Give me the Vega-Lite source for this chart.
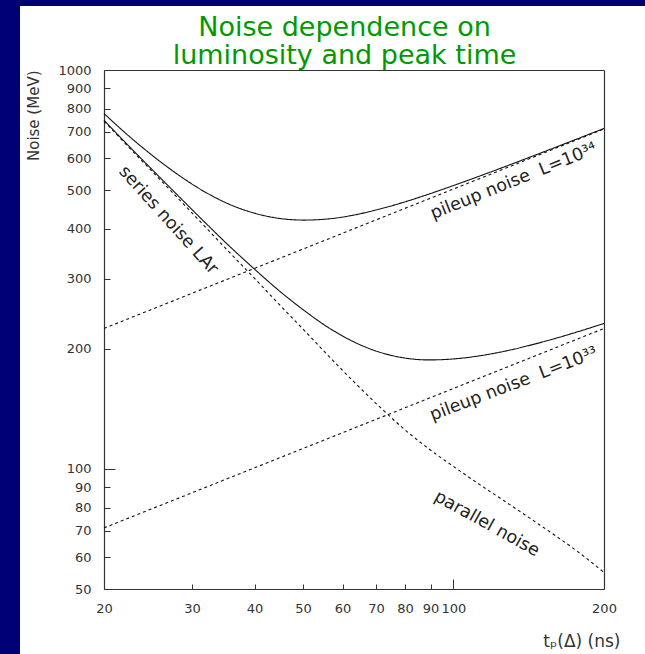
{
  "$schema": "https://vega.github.io/schema/vega-lite/v6.json",
  "width": 625,
  "height": 648,
  "autosize": "none",
  "padding": {"left": 20, "top": 6, "right": 0, "bottom": 0},
  "background": "#000074",
  "config": {
    "view": {"fill": "white", "stroke": null},
    "axis": {
      "labelFont": "DejaVu Sans",
      "labelFontSize": 13,
      "labelColor": "#333333",
      "titleFont": "DejaVu Sans",
      "titleFontWeight": "normal",
      "titleColor": "#333333",
      "domainColor": "#333333",
      "tickColor": "#333333",
      "domainWidth": 1.2,
      "tickWidth": 1
    }
  },
  "title": {
    "text": ["Noise dependence on", "luminosity and peak time"],
    "font": "DejaVu Sans",
    "fontSize": 27,
    "fontWeight": "normal",
    "color": "#009a00",
    "anchor": "middle",
    "frame": "group",
    "offset": 0,
    "lineHeight": 28,
    "dx": 12,
    "dy": 64
  },
  "datasets": {
    "curves": [
      {"curve": "total, L=10³⁴", "t": 20, "noise": 777.9},
      {"curve": "total, L=10³⁴", "t": 22.44, "noise": 682.6},
      {"curve": "total, L=10³⁴", "t": 25.18, "noise": 605.9},
      {"curve": "total, L=10³⁴", "t": 28.25, "noise": 544.4},
      {"curve": "total, L=10³⁴", "t": 31.7, "noise": 496.2},
      {"curve": "total, L=10³⁴", "t": 35.57, "noise": 461.0},
      {"curve": "total, L=10³⁴", "t": 39.91, "noise": 438.0},
      {"curve": "total, L=10³⁴", "t": 44.77, "noise": 424.7},
      {"curve": "total, L=10³⁴", "t": 50.24, "noise": 420.5},
      {"curve": "total, L=10³⁴", "t": 56.37, "noise": 423.5},
      {"curve": "total, L=10³⁴", "t": 63.25, "noise": 432.9},
      {"curve": "total, L=10³⁴", "t": 70.96, "noise": 447.6},
      {"curve": "total, L=10³⁴", "t": 79.62, "noise": 466.3},
      {"curve": "total, L=10³⁴", "t": 89.34, "noise": 488.7},
      {"curve": "total, L=10³⁴", "t": 100.24, "noise": 513.9},
      {"curve": "total, L=10³⁴", "t": 112.47, "noise": 541.4},
      {"curve": "total, L=10³⁴", "t": 126.19, "noise": 571.3},
      {"curve": "total, L=10³⁴", "t": 141.59, "noise": 603.5},
      {"curve": "total, L=10³⁴", "t": 158.87, "noise": 637.9},
      {"curve": "total, L=10³⁴", "t": 178.25, "noise": 674.6},
      {"curve": "total, L=10³⁴", "t": 200, "noise": 713.6},

      {"curve": "total, L=10³³", "t": 20, "noise": 748.1},
      {"curve": "total, L=10³³", "t": 22.44, "noise": 644.1},
      {"curve": "total, L=10³³", "t": 25.18, "noise": 556.6},
      {"curve": "total, L=10³³", "t": 28.25, "noise": 481.7},
      {"curve": "total, L=10³³", "t": 31.7, "noise": 417.1},
      {"curve": "total, L=10³³", "t": 35.57, "noise": 362.5},
      {"curve": "total, L=10³³", "t": 39.91, "noise": 317.6},
      {"curve": "total, L=10³³", "t": 44.77, "noise": 279.9},
      {"curve": "total, L=10³³", "t": 50.24, "noise": 249.7},
      {"curve": "total, L=10³³", "t": 56.37, "noise": 225.6},
      {"curve": "total, L=10³³", "t": 63.25, "noise": 208.1},
      {"curve": "total, L=10³³", "t": 70.96, "noise": 196.4},
      {"curve": "total, L=10³³", "t": 79.62, "noise": 189.8},
      {"curve": "total, L=10³³", "t": 89.34, "noise": 187.6},
      {"curve": "total, L=10³³", "t": 100.24, "noise": 188.7},
      {"curve": "total, L=10³³", "t": 112.47, "noise": 192.0},
      {"curve": "total, L=10³³", "t": 126.19, "noise": 197.1},
      {"curve": "total, L=10³³", "t": 141.59, "noise": 203.9},
      {"curve": "total, L=10³³", "t": 158.87, "noise": 211.9},
      {"curve": "total, L=10³³", "t": 178.25, "noise": 221.2},
      {"curve": "total, L=10³³", "t": 200, "noise": 231.6},

      {"curve": "series + parallel noise", "t": 20, "noise": 744.7},
      {"curve": "series + parallel noise", "t": 22.44, "noise": 639.7},
      {"curve": "series + parallel noise", "t": 25.18, "noise": 550.8},
      {"curve": "series + parallel noise", "t": 28.25, "noise": 474.2},
      {"curve": "series + parallel noise", "t": 31.7, "noise": 407.4},
      {"curve": "series + parallel noise", "t": 35.57, "noise": 349.9},
      {"curve": "series + parallel noise", "t": 39.91, "noise": 301.3},
      {"curve": "series + parallel noise", "t": 44.77, "noise": 258.8},
      {"curve": "series + parallel noise", "t": 50.24, "noise": 222.8},
      {"curve": "series + parallel noise", "t": 56.37, "noise": 191.4},
      {"curve": "series + parallel noise", "t": 63.25, "noise": 165.2},
      {"curve": "series + parallel noise", "t": 70.96, "noise": 143.6},
      {"curve": "series + parallel noise", "t": 79.62, "noise": 125.9},
      {"curve": "series + parallel noise", "t": 89.34, "noise": 112.2},
      {"curve": "series + parallel noise", "t": 100.24, "noise": 101.2},
      {"curve": "series + parallel noise", "t": 112.47, "noise": 91.6},
      {"curve": "series + parallel noise", "t": 126.19, "noise": 83.2},
      {"curve": "series + parallel noise", "t": 141.59, "noise": 75.5},
      {"curve": "series + parallel noise", "t": 158.87, "noise": 68.4},
      {"curve": "series + parallel noise", "t": 178.25, "noise": 61.7},
      {"curve": "series + parallel noise", "t": 200, "noise": 55.0},

      {"curve": "pileup, L=10³⁴", "t": 20, "noise": 225.0},
      {"curve": "pileup, L=10³⁴", "t": 200, "noise": 711.5},

      {"curve": "pileup, L=10³³", "t": 20, "noise": 71.15},
      {"curve": "pileup, L=10³³", "t": 200, "noise": 225.0}
    ],
    "labels": [
      {"label": "series noise LAr", "t": 26.9, "noise": 420},
      {"label": "pileup noise\u00a0\u00a0L=10³⁴", "t": 132, "noise": 526},
      {"label": "pileup noise\u00a0\u00a0L=10³³", "t": 132, "noise": 163},
      {"label": "parallel noise", "t": 116.6, "noise": 72.8}
    ]
  },
  "layer": [
    {
      "data": {"name": "curves"},
      "mark": {"type": "line", "interpolate": "monotone", "color": "#111111", "strokeWidth": 1.1},
      "encoding": {
        "x": {
          "field": "t", "type": "quantitative",
          "scale": {"type": "log", "domain": [20, 200], "range": [84, 584], "nice": false},
          "axis": {
            "orient": "bottom", "offset": -65,
            "values": [20, 30, 40, 50, 60, 70, 80, 90, 100, 200],
            "format": "d",
            "tickSize": {"condition": {"test": "datum.value === 100", "value": -10}, "value": -5},
            "labelPadding": {"condition": {"test": "datum.value === 100", "value": 23}, "value": 18},
            "labelFlush": false, "labelOverlap": false, "labelBound": false,
            "grid": false,
            "title": "tₚ(Δ) (ns)", "titleFontSize": 17,
            "titleX": 600, "titleY": 61, "titleAlign": "right", "titleBaseline": "bottom", "titleAnchor": null
          }
        },
        "y": {
          "field": "noise", "type": "quantitative",
          "scale": {"type": "log", "domain": [50, 1000], "range": [583, 64], "nice": false},
          "axis": {
            "orient": "left", "offset": -84,
            "values": [50, 60, 70, 80, 90, 100, 200, 300, 400, 500, 600, 700, 800, 900, 1000],
            "format": "d",
            "tickSize": {"condition": {"test": "datum.value === 100", "value": -11}, "value": -6},
            "labelPadding": {"condition": {"test": "datum.value === 100", "value": 24}, "value": 19},
            "labelFlush": false, "labelOverlap": false, "labelBound": false,
            "grid": false,
            "title": "Noise (MeV)", "titleFontSize": 15,
            "titleAngle": -90, "titleX": -71, "titleY": 64, "titleAlign": "right", "titleBaseline": "middle", "titleAnchor": null
          }
        },
        "detail": {"field": "curve"},
        "strokeDash": {
          "field": "curve", "type": "nominal", "legend": null,
          "scale": {
            "domain": ["total, L=10³⁴", "total, L=10³³", "series + parallel noise", "pileup, L=10³⁴", "pileup, L=10³³"],
            "range": [[1, 0], [1, 0], [3, 3], [3, 3], [3, 3]]
          }
        }
      }
    },
    {
      "data": {"name": "labels"},
      "transform": [{"filter": "datum.label === 'series noise LAr'"}],
      "mark": {"type": "text", "angle": 48, "font": "DejaVu Sans", "fontSize": 17.5, "color": "#222222", "align": "center", "baseline": "middle"},
      "encoding": {
        "x": {
          "field": "t", "type": "quantitative",
          "axis": {
            "orient": "top", "offset": -64,
            "ticks": false, "labels": false, "domain": true, "grid": false, "title": null
          }
        },
        "y": {
          "field": "noise", "type": "quantitative",
          "axis": {
            "orient": "right", "offset": -41,
            "ticks": false, "labels": false, "domain": true, "grid": false, "title": null
          }
        },
        "text": {"field": "label"}
      }
    },
    {
      "data": {"name": "labels"},
      "transform": [{"filter": "indexof(datum.label, '10³⁴') >= 0"}],
      "mark": {"type": "text", "angle": -22, "font": "DejaVu Sans", "fontSize": 17.5, "color": "#222222", "align": "center", "baseline": "middle"},
      "encoding": {
        "x": {"field": "t", "type": "quantitative", "axis": null},
        "y": {"field": "noise", "type": "quantitative", "axis": null},
        "text": {"field": "label"}
      }
    },
    {
      "data": {"name": "labels"},
      "transform": [{"filter": "indexof(datum.label, '10³³') >= 0"}],
      "mark": {"type": "text", "angle": -21, "font": "DejaVu Sans", "fontSize": 17.5, "color": "#222222", "align": "center", "baseline": "middle"},
      "encoding": {
        "x": {"field": "t", "type": "quantitative", "axis": null},
        "y": {"field": "noise", "type": "quantitative", "axis": null},
        "text": {"field": "label"}
      }
    },
    {
      "data": {"name": "labels"},
      "transform": [{"filter": "datum.label === 'parallel noise'"}],
      "mark": {"type": "text", "angle": 29, "font": "DejaVu Sans", "fontSize": 17.5, "color": "#222222", "align": "center", "baseline": "middle"},
      "encoding": {
        "x": {"field": "t", "type": "quantitative", "axis": null},
        "y": {"field": "noise", "type": "quantitative", "axis": null},
        "text": {"field": "label"}
      }
    }
  ],
  "resolve": {"axis": {"x": "independent", "y": "independent"}}
}
